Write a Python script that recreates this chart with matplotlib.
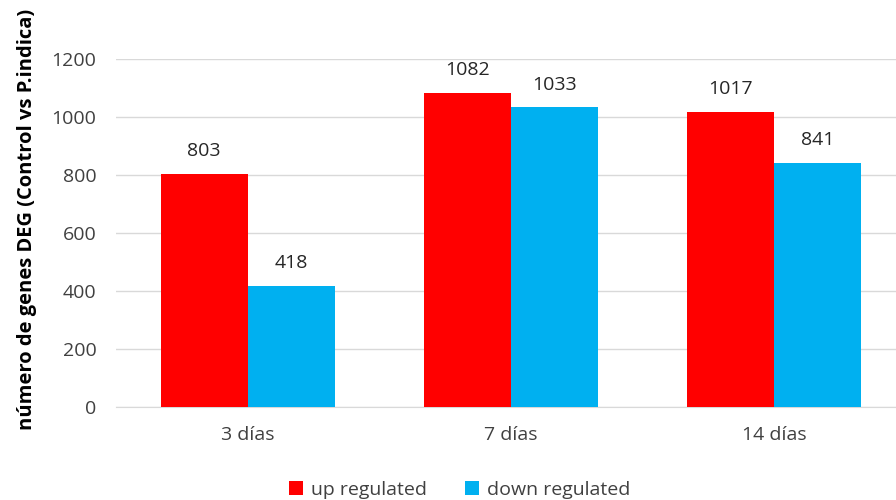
import numpy as np
import matplotlib.pyplot as plt

# ======================
# DATA
# ======================
categories = ["3 días", "7 días", "14 días"]
up_regulated = [803, 1082, 1017]
down_regulated = [418, 1033, 841]
series_names = ["up regulated", "down regulated"]

RED = "#FF0000"
BLUE = "#00B0F0"

plt.rcParams["font.family"] = ["Open Sans", "DejaVu Sans"]
FS = 14

fig = plt.figure(figsize=(8.96, 5.0), dpi=100)
ax = fig.add_axes([116 / 896, 93 / 500, 790 / 896, 348 / 500])

x = np.arange(len(categories))
width = 0.33

bars_up = ax.bar(x - width / 2, up_regulated, width, color=RED, label=series_names[0], zorder=3)
bars_down = ax.bar(x + width / 2, down_regulated, width, color=BLUE, label=series_names[1], zorder=3)

# value labels above each bar
for bars in (bars_up, bars_down):
    for b in bars:
        ax.annotate(f"{int(b.get_height())}",
                    (b.get_x() + b.get_width() / 2, b.get_height()),
                    xytext=(0, 10), textcoords="offset points",
                    ha="center", va="bottom", fontsize=FS, color="#262626")

ax.set_xlim(-0.5, 2.5)
ax.set_ylim(0, 1200)
ax.set_yticks(range(0, 1201, 200))
ax.set_xticks(x)
ax.set_xticklabels(categories)
ax.tick_params(axis="both", length=0, labelsize=FS, labelcolor="#404040")
ax.tick_params(axis="y", pad=14)
ax.tick_params(axis="x", pad=14)

ax.grid(axis="y", color="#D9D9D9", linewidth=1, zorder=0)
for side in ("top", "right", "left"):
    ax.spines[side].set_visible(False)
ax.spines["bottom"].set_color("#D9D9D9")

ax.set_ylabel("número de genes DEG (Control vs P.indica)", fontsize=FS + 0.5,
              fontweight="bold", color="#000000")
ax.yaxis.set_label_coords(-0.1, 0.54)

fig.legend(handles=[bars_up, bars_down], labels=series_names, loc="center",
           bbox_to_anchor=(0.513, 0.02), ncol=2, frameon=False, fontsize=FS,
           handlelength=0.7, handleheight=0.7, handletextpad=0.4, columnspacing=2.0,
           labelcolor="#404040")

fig.savefig("out.png", dpi=100)
